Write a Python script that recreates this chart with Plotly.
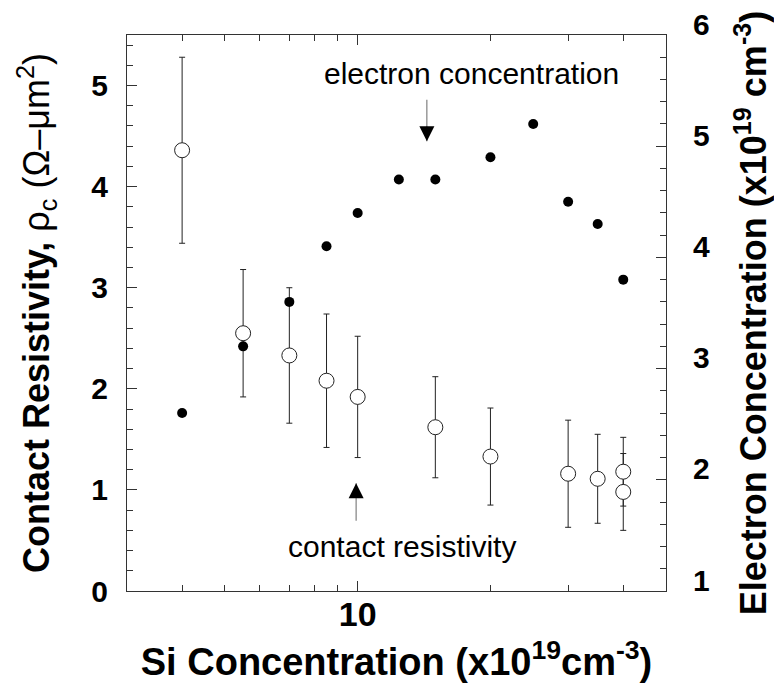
import math
import plotly.graph_objects as go

# Si concentration (x10^19 cm^-3) for each sample
si_conc_rho = [4, 5.5, 7, 8.5, 10, 15, 20, 30, 35, 40, 40]
# Contact resistivity rho_c (Ohm-um^2) and its error
rho_c = [4.36, 2.55, 2.33, 2.08, 1.92, 1.62, 1.33, 1.16, 1.11, 1.18, 0.98]
rho_err = [0.92, 0.63, 0.67, 0.66, 0.60, 0.50, 0.48, 0.53, 0.44, 0.34, 0.38]

# Electron concentration (x10^19 cm^-3)
si_conc_n = [4, 5.5, 7, 8.5, 10, 12.4, 15, 20, 25, 30, 35, 40]
n_elec = [2.6, 3.2, 3.6, 4.1, 4.4, 4.7, 4.7, 4.9, 5.2, 4.5, 4.3, 3.8]

x_major = [10]
x_major_text = ["10"]
x_minor = [4, 5, 6, 7, 8, 9, 20, 30, 40]

FONT = "Liberation Sans, Arial, sans-serif"
AX = "#333333"

fig = go.Figure()

fig.add_trace(go.Scatter(
    x=si_conc_rho, y=rho_c, mode="markers", name="contact resistivity",
    marker=dict(symbol="circle", size=15, color="white",
                line=dict(color="#222222", width=1)),
    error_y=dict(type="data", array=rho_err, visible=True,
                 color="#222222", thickness=1, width=3),
    yaxis="y", showlegend=False,
))

fig.add_trace(go.Scatter(
    x=si_conc_n, y=n_elec, mode="markers", name="electron concentration",
    marker=dict(symbol="circle", size=10, color="black"),
    yaxis="y2", showlegend=False,
))

tick_font = dict(family=FONT, size=30, color="black", weight="bold")

fig.update_layout(
    width=774, height=683,
    margin=dict(l=127, r=108, t=35, b=92),
    paper_bgcolor="white", plot_bgcolor="white",
    font=dict(family=FONT, color="black"),
    xaxis=dict(
        type="log", range=[math.log10(3), math.log10(50)],
        showgrid=False, zeroline=False,
        showline=True, linecolor=AX, linewidth=1, mirror="ticks",
        ticks="inside", ticklen=10, tickcolor=AX,
        tickvals=x_major, ticktext=x_major_text,
        tickfont=dict(family=FONT, size=34, color="black", weight="bold"),
        ticklabelstandoff=-7,
        minor=dict(tickvals=x_minor, ticks="inside", ticklen=6, tickcolor=AX),
        title=dict(text="Si Concentration (x10<sup>19</sup>cm<sup>-3</sup>)",
                   font=dict(family=FONT, size=38, color="black", weight="bold"),
                   standoff=20),
        automargin=False,
    ),
    yaxis=dict(
        range=[0, 5.5], dtick=1, tick0=0,
        showgrid=False, zeroline=False,
        showline=True, linecolor=AX, linewidth=1,
        ticks="inside", ticklen=10, tickcolor=AX,
        tickfont=tick_font, ticklabelstandoff=12,
        minor=dict(dtick=0.2, ticks="inside", ticklen=6, tickcolor=AX),
        title=dict(text="<b>Contact Resistivity, </b>ρ<sub>c</sub> (Ω–μm<sup>2</sup>)",
                   font=dict(family=FONT, size=36, color="black"),
                   standoff=30),
        automargin=False,
    ),
    yaxis2=dict(
        range=[1, 6], dtick=1, tick0=1, overlaying="y", side="right",
        showgrid=False, zeroline=False,
        showline=True, linecolor=AX, linewidth=1,
        ticks="inside", ticklen=10, tickcolor=AX,
        tickfont=tick_font, ticklabelstandoff=20, ticklabelshift=-11,
        minor=dict(dtick=0.2, ticks="inside", ticklen=6, tickcolor=AX),
        title=dict(text="Electron Concentration (x10<sup>19</sup> cm<sup>-3</sup>)",
                   font=dict(family=FONT, size=36, color="black", weight="bold"),
                   standoff=32),
        automargin=False,
    ),
)

# Labels for the two data sets
fig.add_annotation(x=math.log10(18.07), y=5.12, xref="x", yref="y",
                   text="electron concentration", showarrow=False,
                   font=dict(family=FONT, size=30, color="black"),
                   xanchor="center", yanchor="middle")
fig.add_annotation(x=math.log10(12.6), y=0.44, xref="x", yref="y",
                   text="contact resistivity", showarrow=False,
                   font=dict(family=FONT, size=30, color="black"),
                   xanchor="center", yanchor="middle")

# Arrows: (x of tip, y of tip, tail offset in px; negative = tail above)
arrows = [
    (math.log10(14.35), 4.45, -43),
    (math.log10(9.92), 1.065, 39),
]
for tip_x, tip_y, tail in arrows:
    # gray shaft
    fig.add_annotation(x=tip_x, y=tip_y, xref="x", yref="y", text="",
                       showarrow=True, arrowhead=0, arrowwidth=1.2,
                       arrowcolor="#808080", ax=0, ay=tail)
    # black head
    fig.add_annotation(x=tip_x, y=tip_y, xref="x", yref="y", text="",
                       showarrow=True, arrowhead=2, arrowsize=3, arrowwidth=1,
                       arrowcolor="black", ax=0, ay=16 if tail > 0 else -16)

fig.write_html("out.html")
